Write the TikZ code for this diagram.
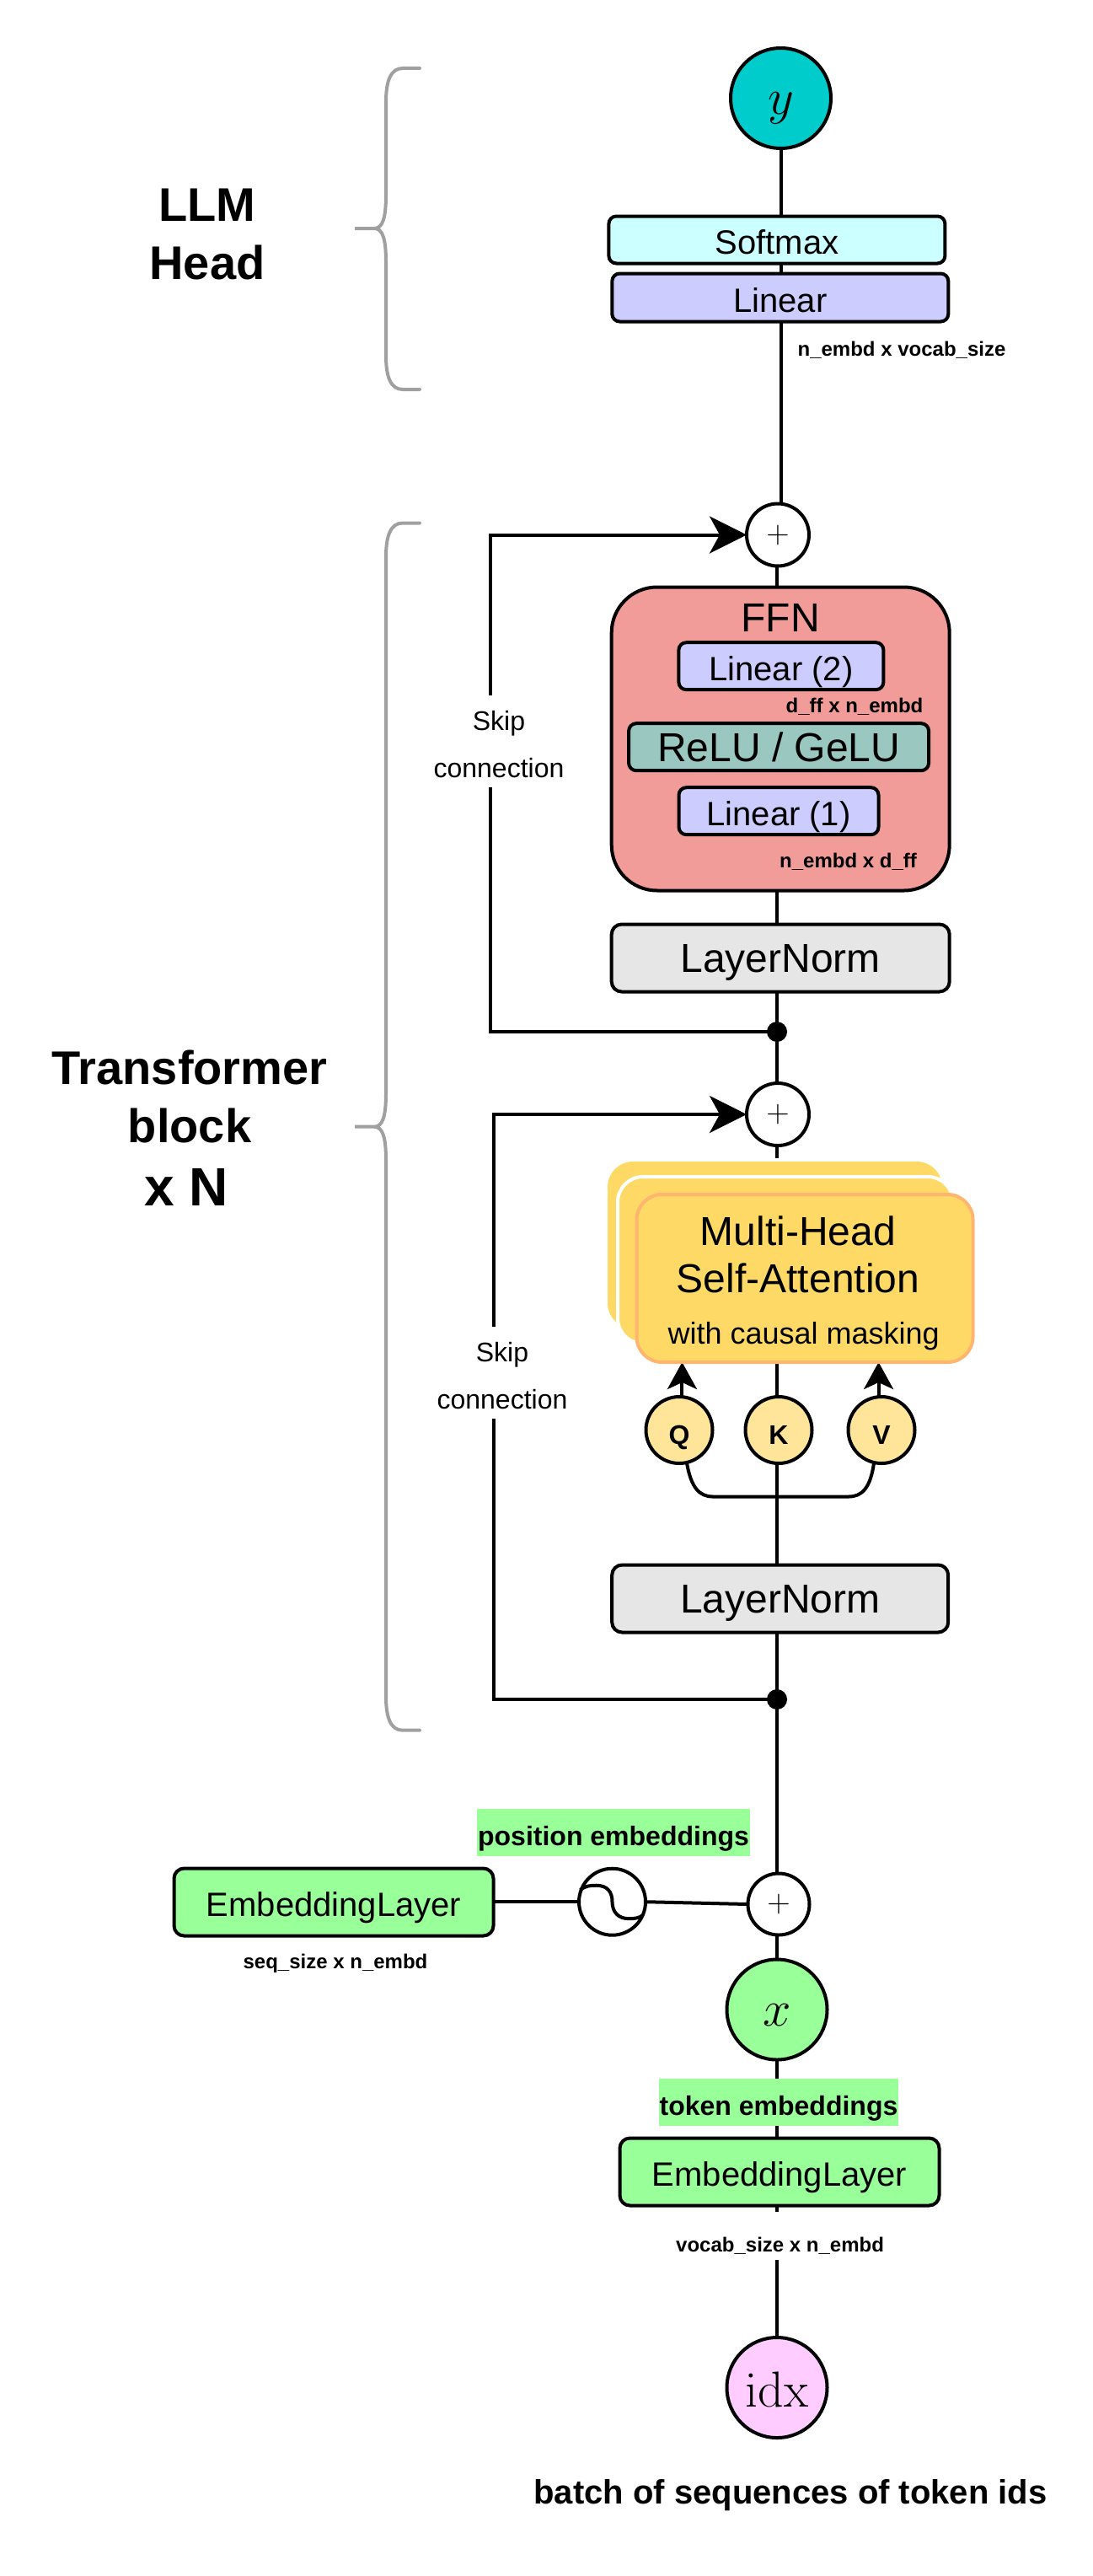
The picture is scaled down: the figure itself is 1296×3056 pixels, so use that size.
\documentclass[tikz,border=0pt]{standalone}
\usepackage{fix-cm}
\usepackage[no-math]{fontspec}
\setmainfont{Liberation Sans}
\usetikzlibrary{arrows.meta,backgrounds,calc}
\definecolor{softc}{HTML}{CCFFFF}
\definecolor{linc}{HTML}{CCCCFF}
\definecolor{yc}{HTML}{00CCCC}
\definecolor{ffnc}{HTML}{F19C99}
\definecolor{reluc}{HTML}{9AC7BF}
\definecolor{normc}{HTML}{E6E6E6}
\definecolor{mhac}{HTML}{FFD966}
\definecolor{mhab}{HTML}{FFB570}
\definecolor{qc}{HTML}{FFE599}
\definecolor{embc}{HTML}{99FF99}
\definecolor{idxc}{HTML}{FFCCFF}
\definecolor{bracec}{HTML}{A0A0A0}
\newcommand{\fs}[1]{\fontsize{#1}{#1}\selectfont}
\newcommand{\curlybrace}[3]{%
  \draw[bracestyle] (498,#1) -- (478,#1) .. controls (464,#1) and (458,{#1+14}) .. (458,{#1+40})
   -- (458,{#2-40}) .. controls (458,{#2-12}) and (454,{#2}) .. (444,#2) -- (421,#2) -- (444,#2)
   .. controls (454,#2) and (458,{#2+12}) .. (458,{#2+40}) -- (458,{#3-40})
   .. controls (458,{#3-14}) and (464,#3) .. (478,#3) -- (498,#3);}
\tikzset{
  x=0.5pt,y=-0.5pt,
  every node/.style={outer sep=0pt,inner sep=0pt},
  conn/.style={line width=2pt,black},
  bigarrow/.style={conn,-{Stealth[length=22pt,width=22pt,inset=6pt]}},
  smallarrow/.style={conn,-{Stealth[length=16pt,width=17.5pt,inset=4pt]}},
  bracestyle/.style={line width=2pt,bracec,line cap=round},
  boxbase/.style={draw=black,line width=2pt,rectangle,align=center,text height=17pt,text depth=0pt},
  smallbox/.style={boxbase,rounded corners=4.5pt,minimum height=28pt,font=\fs{20}},
  normbox/.style={boxbase,rounded corners=6pt,minimum height=40pt,font=\fs{24}},
  embbox/.style={boxbase,rounded corners=6pt,minimum height=40pt,minimum width=189.5pt,font=\fs{20},fill=embc},
  roundnode/.style={circle,draw=black,line width=2pt,minimum size=59.5pt,text depth=0pt},
  sumnode/.style={circle,draw=black,line width=2pt,fill=white,minimum size=37pt,font=\fs{19}},
  keynode/.style={circle,draw=black,line width=2pt,fill=qc,minimum size=39.5pt,text height=16.5pt,text depth=0pt,font=\bfseries\fs{16}},
  joint/.style={circle,fill=black,minimum size=12pt},
  dimlabel/.style={anchor=base,font=\bfseries\fs{12}},
  hilite/.style={rectangle,fill=embc,minimum height=28pt,text height=15.6pt,text depth=0pt,font=\bfseries\fs{16}},
  skiplabel/.style={rectangle,fill=white,align=center,font=\fontsize{16}{28}\selectfont,minimum width=78pt,minimum height=54.5pt},
  titlelabel/.style={align=center,font=\bfseries\fontsize{28}{34.5}\selectfont},
  mhatext/.style={anchor=base}
}
\begin{document}
\begin{tikzpicture}
\useasboundingbox (0,0) rectangle (1296,3056);
% head
\node[roundnode,fill=yc,font=\fs{30},text height=18.5pt] (y) at (926.5,116.5) {$y$};
\node[smallbox,fill=softc,minimum width=199.5pt] (softmax) at (921.9,284.5) {Softmax};
\node[smallbox,fill=linc,minimum width=199.5pt,minimum height=28.5pt] (linear) at (925.8,353) {Linear};
\node[dimlabel] (dimhead) at (1070,422) {n\_embd x vocab\_size};
\node[sumnode] (plusa) at (923,634.5) {$+$};
% FFN
\node[rectangle,draw=black,line width=2pt,fill=ffnc,rounded corners=27pt,minimum width=200.5pt,minimum height=180pt] (ffn) at (926.2,876.5) {};
\node[anchor=base,font=\fs{24}] (ffntext) at (926,749) {FFN};
\node[smallbox,fill=linc,minimum width=121.5pt] (linb) at (926.9,790.2) {Linear (2)};
\node[dimlabel] (dimb) at (1014,845.5) {d\_ff x n\_embd};
\node[smallbox,fill=reluc,minimum width=178pt,font=\fs{24}] (relu) at (924.1,886.2) {ReLU / GeLU};
\node[smallbox,fill=linc,minimum width=118.5pt] (lina) at (924,962.2) {Linear (1)};
\node[dimlabel] (dima) at (1006.5,1029.5) {n\_embd x d\_ff};
\node[normbox,fill=normc,minimum width=200.5pt] (norma) at (926.2,1136.5) {LayerNorm};
\node[joint] (dota) at (922,1224) {};
\node[skiplabel] (skipa) at (592,879.5) {\rule{0pt}{15.5pt}Skip\\connection};
% attention
\node[sumnode] (plusb) at (923,1322) {$+$};
\node[rectangle,fill=mhac,rounded corners=15pt,minimum width=198.5pt,minimum height=99pt] (mhaback) at (919.5,1477) {};
\node[rectangle,draw=white,line width=2pt,fill=mhac,rounded corners=15pt,minimum width=199pt,minimum height=99pt] (mhamid) at (932,1495) {};
\node[rectangle,draw=mhab,line width=2pt,fill=mhac,rounded corners=15pt,minimum width=199.5pt,minimum height=99.5pt] (mha) at (955,1516.5) {};
\node[mhatext,font=\fs{24}] (mhal1) at (947,1477) {Multi-Head};
\node[mhatext,font=\fs{24}] (mhal2) at (947,1533) {Self-Attention};
\node[mhatext,font=\fs{18}] (mhal3) at (953.7,1594) {with causal masking};
\node[keynode] (q) at (806,1696.5) {Q};
\node[keynode] (k) at (924,1696.5) {K};
\node[keynode] (v) at (1046,1696.5) {V};
\node[normbox,fill=normc,minimum width=199.5pt] (normb) at (925.7,1896.5) {LayerNorm};
\node[joint] (dotb) at (922,2016) {};
\node[skiplabel] (skipb) at (596,1628.5) {\rule{0pt}{15.5pt}Skip\\connection};
% embeddings
\node[hilite,minimum width=162pt] (posl) at (728,2174) {position embeddings};
\node[embbox] (embpos) at (396,2256.5) {EmbeddingLayer};
\node[circle,draw=black,line width=2pt,fill=white,minimum size=39.5pt] (sine) at (726.5,2256.2) {};
\node[sumnode,minimum size=36.5pt] (plusc) at (924,2259) {$+$};
\node[dimlabel] (dimpos) at (398,2335) {seq\_size x n\_embd};
\node[roundnode,fill=embc,font=\fs{30},text height=19pt] (x) at (922,2384) {$x$};
\node[hilite,minimum width=142pt] (tokl) at (924,2494) {token embeddings};
\node[embbox] (embtok) at (925,2576.5) {EmbeddingLayer};
\node[rectangle,fill=white,minimum height=28.5pt,text height=18.5pt,text depth=0pt,font=\bfseries\fs{12}] (dimtok) at (925.6,2652.5) {vocab\_size x n\_embd};
\node[roundnode,fill=idxc,font=\fs{30},text height=22.5pt] (idx) at (922,2832.5) {$\mathrm{idx}$};
\node[anchor=base,font=\bfseries\fs{20}] (batch) at (938,2970.7) {batch of sequences of token ids};
% titles
\node[titlelabel] (llm) at (246,278) {LLM\\Head};
\node[titlelabel] (tb) at (225,1338) {Transformer\\block\\[3pt]{\fs{32}x N\hspace*{4pt}}};
% free coordinates
\coordinate (plusbdrop) at (922,1374);
\coordinate (mhak) at (922,1617);
\coordinate (cornera) at (582,1224);
\coordinate (cornerb) at (582,634.5);
\coordinate (cornerc) at (586,2016);
\coordinate (cornerd) at (586,1322);
% sine glyph
\draw[line width=2pt] ([shift={(-38,-14)}]sine.center) .. controls ([shift={(-32,-19)}]sine.center) and ([shift={(-26,-19.5)}]sine.center) .. ([shift={(-19,-19.5)}]sine.center)
  .. controls ([shift={(-6,-19.5)}]sine.center) and ([shift={(0,-12)}]sine.center) .. (sine.center)
  .. controls ([shift={(0,12)}]sine.center) and ([shift={(7,20)}]sine.center) .. ([shift={(20,20)}]sine.center)
  .. controls ([shift={(27,20)}]sine.center) and ([shift={(32,19)}]sine.center) .. ([shift={(36,16)}]sine.center);
\begin{scope}[on background layer]
  \draw[conn] (y.south) -- (y.south |- plusa.center);
  \draw[conn] (plusa.center -| dota) -- (plusb.center -| dota);
  \draw[conn] (plusb.center -| dota) -- (plusbdrop);
  \draw[conn] (mhak) -- (mhak |- plusc.center);
  \draw[conn] (plusc.center -| x) -- (idx.center);
  \draw[bigarrow] (dota.center) -- (cornera) -- (cornerb) -- (plusa.west);
  \draw[bigarrow] (dotb.center) -- (cornerc) -- (cornerd) -- (plusb.west);
  \draw[smallarrow] (q.85) -- (q.85 |- mha.south);
  \draw[smallarrow] (v.95) -- (v.95 |- mha.south);
  \draw[conn] (q.-77) .. controls (820,1765) and (830,1775.5) .. (846,1775.5) -- (1007,1775.5) .. controls (1023,1775.5) and (1033,1765) .. (v.-103);
  \draw[conn] (embpos.east |- sine.center) -- (sine.west);
  \draw[conn] (sine.east) -- (plusc.west);
\end{scope}
\curlybrace{81}{271}{462}
\curlybrace{620.5}{1336.7}{2052.7}
\end{tikzpicture}
\end{document}
